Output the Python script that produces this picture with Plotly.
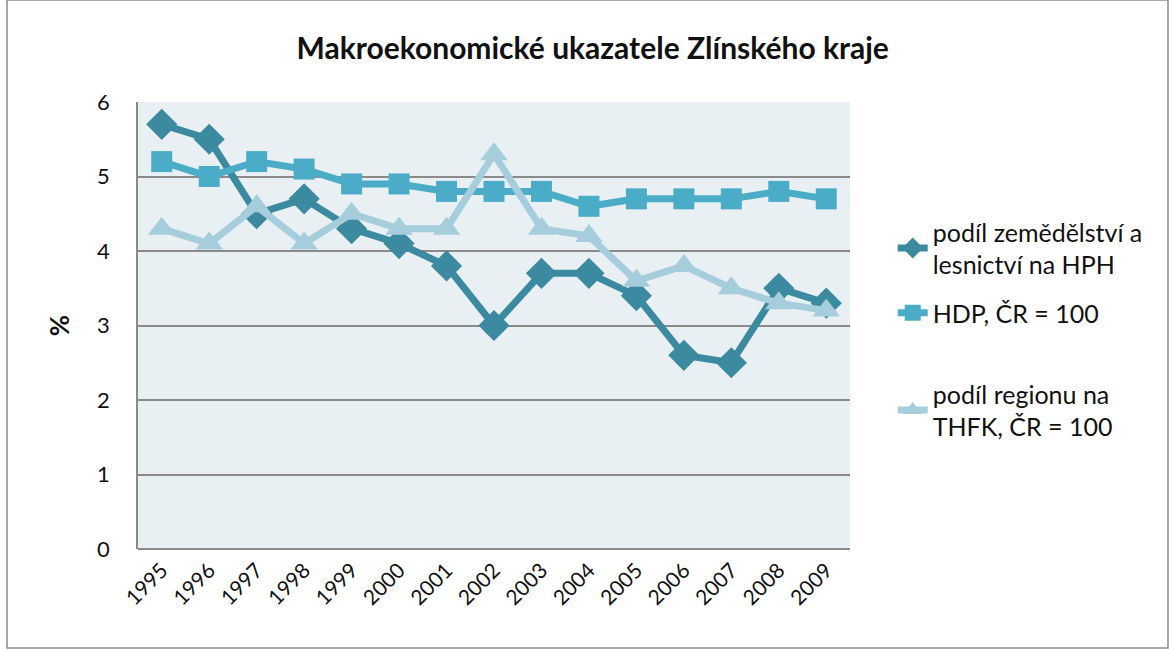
import plotly.graph_objects as go

YEARS = [str(y) for y in range(1995, 2010)]

ZEMEDELSTVI = [5.7, 5.5, 4.5, 4.7, 4.3, 4.1, 3.8, 3.0, 3.7, 3.7, 3.4, 2.6, 2.5, 3.5, 3.3]
HDP = [5.2, 5.0, 5.2, 5.1, 4.9, 4.9, 4.8, 4.8, 4.8, 4.6, 4.7, 4.7, 4.7, 4.8, 4.7]
THFK = [4.3, 4.1, 4.6, 4.1, 4.5, 4.3, 4.3, 5.3, 4.3, 4.2, 3.6, 3.8, 3.5, 3.3, 3.2]

SERIES = [
    ("podíl zemědělství a<br>lesnictví na HPH", ZEMEDELSTVI, "#3b8aa0", "diamond", 24, "legend"),
    ("HDP, ČR = 100", HDP, "#4aacc6", "square", 21, "legend2"),
    ("podíl regionu na<br>THFK, ČR = 100", THFK, "#a6cddb", "triangle-up", 24, "legend3"),
]

FONT = "Lato, 'Open Sans', sans-serif"

fig = go.Figure()
for name, values, color, symbol, size, legend in SERIES:
    fig.add_trace(
        go.Scatter(
            x=YEARS,
            y=values,
            name=name,
            mode="lines+markers",
            line={"color": color, "width": 7},
            marker={"symbol": symbol, "size": size, "color": color},
            legend=legend,
        )
    )

legend_base = {
    "xref": "paper",
    "yref": "paper",
    "xanchor": "left",
    "yanchor": "middle",
    "x": 1.06,
    "bgcolor": "rgba(0,0,0,0)",
    "font": {"family": FONT, "size": 25, "color": "#111111"},
    "itemwidth": 30,
}

fig.update_layout(
    width=1169,
    height=652,
    margin={"l": 138, "r": 319, "t": 102, "b": 103},
    paper_bgcolor="#ffffff",
    plot_bgcolor="#e8f0f4",
    font={"family": FONT, "size": 21, "color": "#111111"},
    title={
        "text": "<b>Makroekonomické ukazatele Zlínského kraje</b>",
        "x": 0.507,
        "xanchor": "center",
        "y": 0.925,
        "yanchor": "middle",
        "font": {"family": FONT, "size": 30, "color": "#111111"},
    },
    showlegend=True,
    legend={**legend_base, "y": (549 - 248) / 447},
    legend2={**legend_base, "y": (549 - 313) / 447},
    legend3={**legend_base, "y": (549 - 410) / 447},
    shapes=[
        {
            "type": "rect",
            "xref": "paper",
            "yref": "paper",
            "x0": (7 - 138) / 712,
            "x1": (1168 - 138) / 712,
            "y0": (549 - 648) / 447,
            "y1": (549 - 0) / 447,
            "line": {"color": "#8c8c8c", "width": 1.5},
            "layer": "below",
        }
    ],
)

fig.update_xaxes(
    type="category",
    range=[-0.5, 14.5],
    tickangle=-45,
    showgrid=False,
    showline=False,
    ticks="",
    ticklabelstandoff=4,
    tickfont={"family": FONT, "size": 21},
)
fig.update_yaxes(
    range=[0, 6],
    dtick=1,
    showgrid=True,
    gridcolor="#8a8a8a",
    gridwidth=1.5,
    zeroline=True,
    zerolinecolor="#8a8a8a",
    zerolinewidth=1.5,
    showline=True,
    linecolor="#8a8a8a",
    linewidth=1.5,
    ticks="",
    ticklabelstandoff=22,
    tickfont={"family": FONT, "size": 22},
    title={"text": "<b>%</b>", "font": {"family": FONT, "size": 26}, "standoff": 20},
)

fig.write_html(
    "out.html",
    config={"displayModeBar": False},
    post_script="document.body.style.margin = '0px';",
)
